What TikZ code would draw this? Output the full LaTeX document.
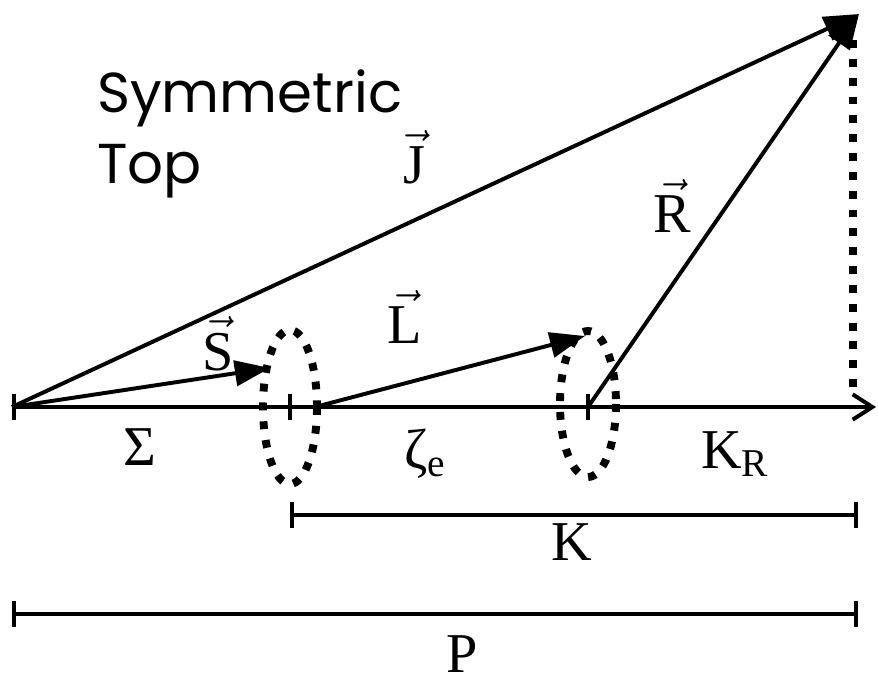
\RequirePackage{fix-cm}
\documentclass[tikz,border=0pt]{standalone}
\usepackage{fontspec}
\setmainfont{Liberation Serif}
\newfontfamily\topfont{Poppins}
\usetikzlibrary{arrows.meta}

\tikzset{
  vecline/.style={line width=2.8pt, -{Triangle[length=25pt,width=18pt]}},
  ring/.style={line width=5.6pt, dash pattern=on 5.6pt off 7.8pt},
  span/.style={line width=2.8pt, {Bar[width=19pt]}-{Bar[width=19pt]}},
  lbl/.style={font=\fontsize{40}{40}\selectfont, inner sep=0pt, anchor=base},
  toplbl/.style={font=\topfont\fontsize{40}{40}\selectfont, inner sep=0pt, anchor=base west},
}

\begin{document}
\begin{tikzpicture}[x=0.025cm, y=-0.025cm]
  \useasboundingbox (0,0) rectangle (878,690);

  % points on the axis
  \coordinate (O) at (12,407);
  \coordinate (A) at (290,407);
  \coordinate (B) at (588,407);
  \coordinate (E) at (876,407);
  \coordinate (Lfoot) at (315,407);
  \coordinate (Stip) at (270,368);
  \coordinate (Ltip) at (585,336);
  \coordinate (top) at (859,14);
  \coordinate (Dtop) at (853,40);
  \coordinate (Dbot) at (853,398);

  % axis with ticks
  \draw[line width=2.8pt, {Bar[width=19pt]}-{Straight Barb[length=14pt,width=18pt]}] (O) -- (E);
  \draw[line width=2.8pt] (A) ++(0,-13) -- ++(0,26);
  \draw[line width=2.8pt] (B) ++(0,-13) -- ++(0,26);

  % dotted rings and projection
  \draw[ring] (A) ellipse [x radius=27, y radius=77];
  \draw[ring] ([yshift=0.075cm]B) ellipse [x radius=28, y radius=73];
  \draw[ring] (Dtop) -- (Dbot);

  % vectors
  \draw[vecline] (O) -- (top);
  \draw[vecline] (O) -- (Stip);
  \draw[vecline] (Lfoot) -- (Ltip);
  \draw[vecline] (B) -- (top);

  % spans
  \coordinate (K1) at (290,515);
  \coordinate (K2) at (858,515);
  \coordinate (P1) at (12,614);
  \coordinate (P2) at (858,614);
  \draw[span] (K1) -- (K2);
  \draw[span] (P1) -- (P2);

  % labels
  \node[toplbl] (sym) at (97,112) {Symmetric};
  \node[toplbl] (toptxt) at (97,183) {Top};
  \node[lbl] (J) at (414,183) {$\vec{\mathrm{J}}$};
  \node[lbl] (R) at (672,232) {$\vec{\mathrm{R}}$};
  \node[lbl] (S) at (218,370) {$\vec{\mathrm{S}}$};
  \node[lbl] (L) at (405,343) {$\vec{\mathrm{L}}$};
  \node[lbl] (Sig) at (140,465) {Σ};
  \node[lbl] (zeta) at (425,468) {ζ\textsubscript{e}};
  \node[lbl] (KR) at (735,468) {K\textsubscript{R}};
  \node[lbl] (K) at (572,560) {K};
  \node[lbl] (P) at (462,672) {P};
\end{tikzpicture}
\end{document}
